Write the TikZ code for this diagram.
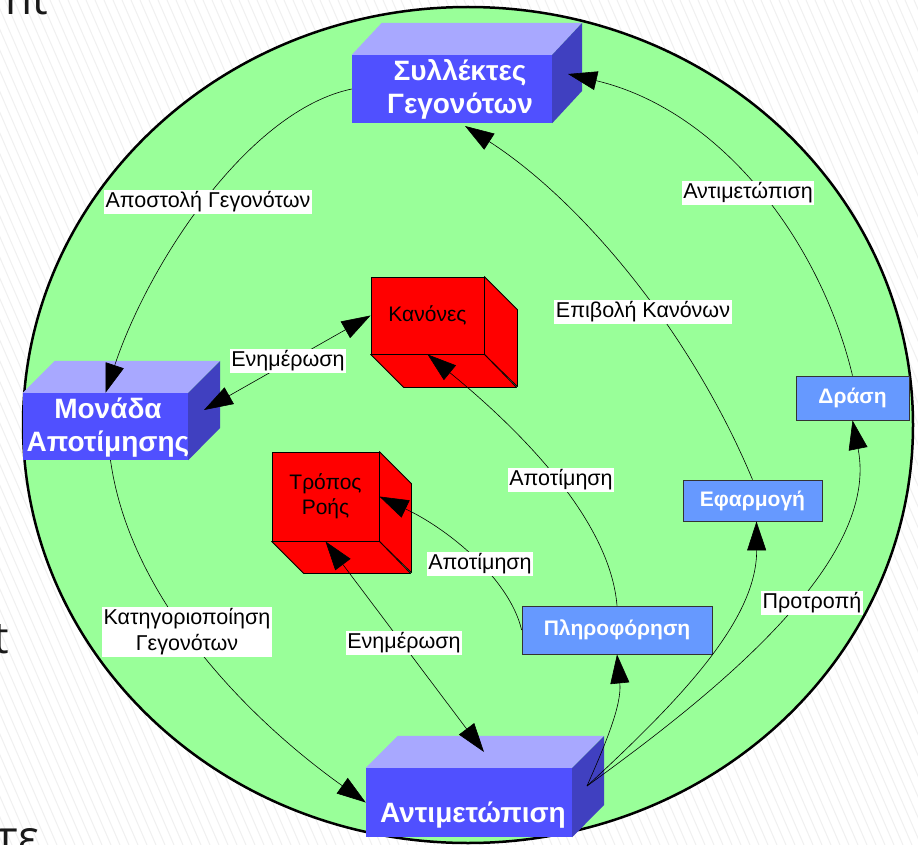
\documentclass[tikz,border=0pt]{standalone}
\usepackage{fontspec}
\setmainfont{Liberation Sans}
\newfontfamily\slidefont{Open Sans}
\usetikzlibrary{arrows.meta}
\definecolor{bggreen}{HTML}{99FF99}
\definecolor{bfront}{HTML}{5050FF}
\definecolor{btop}{HTML}{A8A8FF}
\definecolor{bside}{HTML}{4040C0}
\definecolor{flatblue}{HTML}{6699FF}
\definecolor{flatline}{HTML}{333333}
\tikzset{
  stripe/.style={black!6, line width=1pt},
  bfr/.style={fill=bfront, draw=none, inner sep=0pt},
  btopface/.style={fill=btop},
  bsideface/.style={fill=bside},
  btxt/.style={text=white, font=\fontsize{28}{33}\selectfont\bfseries, align=center, inner sep=0pt},
  rfr/.style={fill=red, draw=black, line width=0.8pt, inner sep=0pt, font=\fontsize{21}{25}\selectfont, align=center},
  rface/.style={fill=red, draw=black, line width=0.8pt, line join=round},
  flatbox/.style={fill=flatblue, draw=flatline, line width=0.8pt, inner sep=0pt, text=white, font=\fontsize{21}{25}\selectfont\bfseries},
  lbl/.style={fill=white, inner sep=1.5pt, font=\fontsize{21.5}{26}\selectfont, align=center},
  conn/.style={line width=0.6pt},
  arr/.style={conn, -{Triangle[length=29pt,width=19pt]}},
  barr/.style={conn, {Triangle[length=29pt,width=19pt]}-{Triangle[length=29pt,width=19pt]}},
  slide/.style={font=\slidefont\fontsize{44}{50}\selectfont, text=black!90, inner sep=0pt}
}
\begin{document}
\begin{tikzpicture}[x=1pt,y=-1pt]
\useasboundingbox (0,0) rectangle (918,845);
\clip (0,0) rectangle (918,845);
\fill[white] (0,0) rectangle (918,845);
% background stripes
\foreach \i in {-400,-391,...,918} \draw[stripe] (\i,0) -- (\i+367,845);
% slide text fragments (cut off at the edges, as in the reference)
\node[slide, anchor=base east] (s1) at (48,15) {nt};
\node[slide, anchor=base east] (s2) at (9,653) {t};
\node[slide, anchor=base west] (s3) at (-3,852) {τε};
% green ellipse
\draw[line width=2.5pt, fill=bggreen] (468,425) ellipse [x radius=445, y radius=418];

% Συλλέκτες Γεγονότων
\node[bfr, minimum width=200pt, minimum height=68pt] (coll) at (452,89) {};
\fill[btopface] (coll.north west) -- ++(30,-32) -- ++(200,0) -- (coll.north east) -- cycle;
\fill[bsideface] (coll.north east) -- ++(30,-32) -- ++(0,68) -- (coll.south east) -- cycle;
\node[btxt] (collt) at (460,89) {Συλλέκτες\\Γεγονότων};

% Μονάδα Αποτίμησης
\node[bfr, minimum width=165pt, minimum height=67pt] (mon) at (105.5,426.5) {};
\fill[btopface] (mon.north west) -- ++(32,-32) -- ++(165,0) -- (mon.north east) -- cycle;
\fill[bsideface] (mon.north east) -- ++(32,-32) -- ++(0,67) -- (mon.south east) -- cycle;
\node[btxt] (mont) at (108,428) {Μονάδα\\Αποτίμησης};

% Αντιμετώπιση
\node[bfr, minimum width=206pt, minimum height=69pt] (ant) at (469,802.5) {};
\fill[btopface] (ant.north west) -- ++(32,-32) -- ++(206,0) -- (ant.north east) -- cycle;
\fill[bsideface] (ant.north east) -- ++(32,-32) -- ++(0,69) -- (ant.south east) -- cycle;
\node[btxt] (antt) at (473,815) {Αντιμετώπιση};

% Κανόνες
\node[rfr, minimum width=113pt, minimum height=77pt] (kan) at (427.5,315.5) {Κανόνες};
\filldraw[rface] (kan.north east) -- ++(33,33) -- ++(0,77) -- (kan.south east) -- cycle;
\filldraw[rface] (kan.south west) -- ++(33,33) -- ++(113,0) -- (kan.south east) -- cycle;

% Τρόπος Ροής
\node[rfr, minimum width=107pt, minimum height=89pt] (trop) at (325.5,496.5) {Τρόπος\\Ροής};
\filldraw[rface] (trop.north east) -- ++(32,32) -- ++(0,89) -- (trop.south east) -- cycle;
\filldraw[rface] (trop.south west) -- ++(32,32) -- ++(107,0) -- (trop.south east) -- cycle;

% flat boxes
\node[flatbox, minimum width=190pt, minimum height=48pt] (pler) at (617,630) {Πληροφόρηση};
\node[flatbox, minimum width=113pt, minimum height=44pt] (dra) at (852.5,398) {Δράση};
\node[flatbox, minimum width=139pt, minimum height=41pt] (efa) at (752.5,500.5) {Εφαρμογή};

% attach points
\coordinate (collR) at (568,74);
\coordinate (collB) at (465,126);
\coordinate (monR) at (204,410);
\coordinate (antT) at (484,752);
\coordinate (antS) at (587,786);

% connectors
\draw[arr] (coll.west) .. controls (250,110) and (150,260) .. (mon.north);
\draw[barr] (monR) -- (kan.west);
\draw[arr] (efa.north) .. controls (690,330) and (580,200) .. (collB);
\draw[arr] (dra.north) .. controls (820,240) and (720,110) .. (collR);
\draw[arr] (pler.north) .. controls (610,520) and (520,430) .. (kan.south);
\draw[arr] (pler.west) .. controls (510,580) and (450,530) .. (trop.east);
\draw[barr] (trop.south) -- (antT);
\draw[arr] ([xshift=5pt]mon.south) .. controls (130,600) and (250,720) .. (ant.west);
\draw[arr] (antS) .. controls (605,745) and (622,705) .. (pler.south);
\draw[arr] (antS) .. controls (680,700) and (757,620) .. ([xshift=4pt]efa.south);
\draw[arr] (antS) .. controls (720,690) and (880,560) .. (dra.south);

% labels
\node[lbl] (l1) at (208,202) {Αποστολή Γεγονότων};
\node[lbl] (l2) at (288,361) {Ενημέρωση};
\node[lbl] (l3) at (643,312) {Επιβολή Κανόνων};
\node[lbl] (l4) at (748,193) {Αντιμετώπιση};
\node[lbl] (l5) at (561,480) {Αποτίμηση};
\node[lbl] (l6) at (480,564) {Αποτίμηση};
\node[lbl] (l7) at (187,632) {Κατηγοριοποίηση\\Γεγονότων};
\node[lbl] (l8) at (404,643) {Ενημέρωση};
\node[lbl] (l9) at (812,603) {Προτροπή};
\end{tikzpicture}
\end{document}
